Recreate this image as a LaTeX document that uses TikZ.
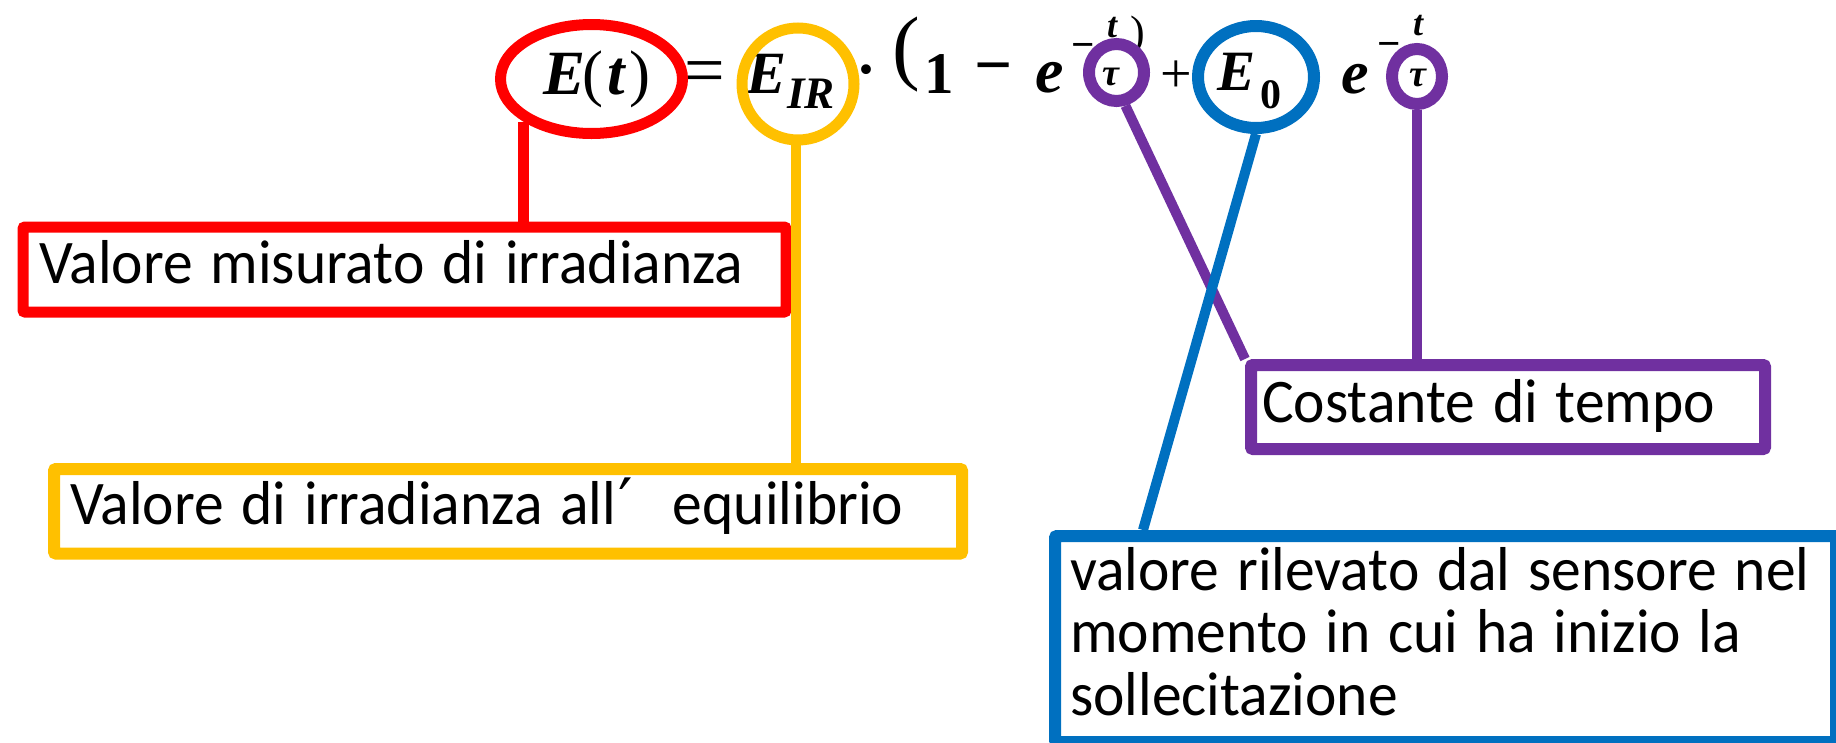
\documentclass[tikz,border=0pt]{standalone}
\usepackage{fontspec}
\usetikzlibrary{shapes.geometric}
\newfontfamily\lblfont[FakeStretch=0.96,WordSpace=1.33]{Carlito}
\newfontfamily\primefont{DejaVu Sans}
\newfontfamily\eqfont{Liberation Serif}
\definecolor{cred}{HTML}{FF0000}
\definecolor{cyel}{HTML}{FFC000}
\definecolor{cpur}{HTML}{7030A0}
\definecolor{cblu}{HTML}{0070C0}
\begin{document}
\begin{tikzpicture}[x=1pt,y=-1pt,
  lbl/.style={font=\lblfont\fontsize{62}{62.5}\selectfont, inner sep=0pt, anchor=base west, align=left},
  eqbi/.style={font=\eqfont\bfseries\itshape\fontsize{#1}{#1}\selectfont, inner sep=0pt},
  eqrm/.style={font=\eqfont\fontsize{#1}{#1}\selectfont, inner sep=0pt},
  eqb/.style={font=\eqfont\bfseries\fontsize{#1}{#1}\selectfont, inner sep=0pt},
  box/.style={draw=#1, line width=12pt, rounded corners=2pt, anchor=north west, inner sep=0pt},
  ring/.style={draw=#1, ellipse, line width=11pt, inner sep=0pt},
  link/.style={draw=#1, line width=10pt}
]
\useasboundingbox (0,0) rectangle (1836,742);
% ---------- formula ----------
\node[eqbi=63, anchor=base west] (fEt) at (543,94)
  {E\kern-3pt{\mdseries\upshape(}\kern4pt t\kern5pt{\mdseries\upshape)}};
\node[eqrm=72] (feq) at (705,78) {=};
\node[eqbi=60, anchor=base west] (fE) at (746,93) {E};
\node[eqbi=45, anchor=base west] (fIR) at (787,108) {IR};
\node[eqb=60] (fdot) at (866,77) {·};
\node[eqrm=83] (flp) at (906,55) {(};
\node[eqb=59, anchor=base west] (f1) at (924,93) {1};
\node[eqb=67] (fmin) at (994,75) {−};
\node[eqbi=64, anchor=base west] (fe1) at (1035,92) {e};
\node[eqb=41] (fm1) at (1083,51) {−};
\node[eqbi=36] (ft1) at (1112,28) {t};
\node[eqbi=38] (ftau1) at (1111,77) {τ};
\node[eqrm=44] (frp) at (1138,36) {)};
\node[eqrm=56] (fplus) at (1176,77) {+};
\node[eqbi=57, anchor=base west] (fE0) at (1217,90) {E};
\node[eqb=42, anchor=base west] (f0) at (1260,108) {0};
\node[eqbi=62, anchor=base west] (fe2) at (1341,93) {e};
\node[eqb=41] (fm2) at (1389,50) {−};
\node[eqbi=36] (ft2) at (1418,26) {t};
\node[eqbi=38] (ftau2) at (1418,78) {τ};
% ---------- rings ----------
\node[ring=cred, minimum width=182pt, minimum height=109pt] (rell) at (591.5,79) {};
\node[ring=cyel, minimum width=112pt, minimum height=112pt] (yell) at (798,84) {};
\node[ring=cblu, line width=12pt, minimum width=116pt, minimum height=102pt] (bell) at (1256,77) {};
\node[ring=cpur, line width=12pt, minimum width=55pt, minimum height=57pt] (pell1) at (1116.5,72.5) {};
\node[ring=cpur, line width=12pt, minimum width=50pt, minimum height=55pt] (pell2) at (1417,76.5) {};
% ---------- boxes ----------
\node[box=cred, line width=11pt, minimum width=763pt, minimum height=85pt] (rbox) at (17.5,221.5) {};
\node[box=cyel, minimum width=908pt, minimum height=84.5pt] (ybox) at (48,463) {};
\node[box=cpur, minimum width=514pt, minimum height=84pt] (pbox) at (1245,359) {};
\node[box=cblu, minimum width=781pt, minimum height=206pt] (bbox) at (1049,530) {};
\node[lbl] (rtxt) at (39,283) {Valore misurato di irradianza};
\node[lbl] (ytxt) at (70,524) {Valore di irradianza all\kern2pt{\primefont\fontsize{64}{64}\selectfont′}\hspace{40pt}equilibrio};
\node[lbl] (ptxt) at (1262,422) {Costante di tempo};
\node[lbl] (btxt) at (1070,715) {valore rilevato dal sensore nel\\momento in cui ha inizio la\\sollecitazione};
% ---------- connectors ----------
\coordinate (bend) at (1143,530);
\draw[link=cred, line width=11pt] (rell.212) -- (rell.212 |- rbox.north);
\draw[link=cyel] (yell.268) -- (yell.268 |- ybox.north);
\draw[link=cpur] (pell1.285) -- (pbox.north west);
\draw[link=cpur] (pell2.south) -- (pell2.south |- pbox.north);
\draw[link=cblu] (bell.south) -- (bend);
\end{tikzpicture}
\end{document}
